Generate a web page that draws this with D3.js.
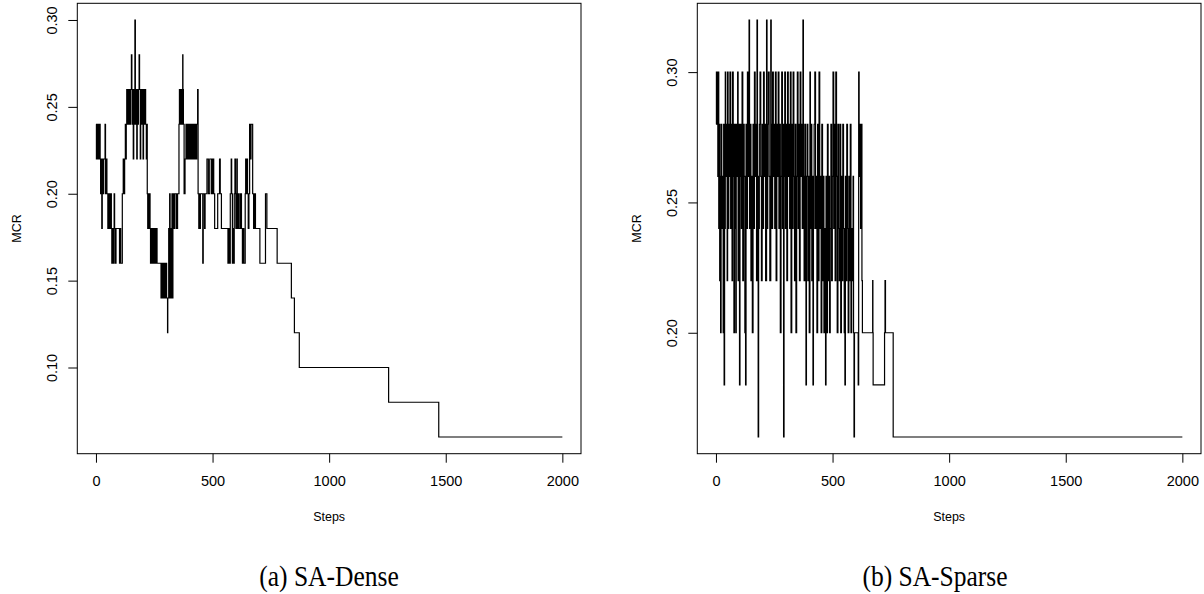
<!DOCTYPE html>
<html>
<head>
    <meta charset="utf-8">
    <title>SA MCR</title>
    <script type="text/javascript" src="https://cdn.jsdelivr.net/npm/d3@7"></script>
    <style>
        body { margin: 0; background: #fff; }
        .axis text { font-family: "Liberation Sans", Arial, sans-serif; font-size: 14.5px; fill: #000; }
        .axis line { stroke: #000; }
        .title { font-family: "Liberation Sans", Arial, sans-serif; font-size: 12.5px; }
        .caption { font-family: "Liberation Serif", "Times New Roman", serif; font-size: 29px; }
    </style>
</head>

<body>

<script type="text/javascript">

    // change points: [step, MCR] - the value holds until the next step listed
    var denseSteps = [
        [0,0.24],[2,0.22],[4,0.24],[6,0.22],[8,0.24],[10,0.22],[12,0.24],[14,0.22],[16,0.24],[18,0.22],
        [20,0.20],[22,0.22],[24,0.20],[25,0.18],[27,0.22],[30,0.20],[33,0.22],[39,0.24],[41,0.20],[45,0.22],
        [47,0.20],[51,0.18],[55,0.20],[58,0.18],[61,0.20],[66,0.18],[68,0.16],[70,0.18],[72,0.16],[74,0.18],
        [76,0.16],[78,0.20],[80,0.18],[84,0.16],[86,0.18],[101,0.16],[104,0.18],[106,0.16],[113,0.20],[117,0.22],
        [120,0.20],[123,0.22],[126,0.24],[128,0.22],[130,0.24],[132,0.26],[134,0.24],[136,0.26],[138,0.24],[140,0.26],
        [142,0.24],[144,0.26],[147,0.24],[149,0.26],[152,0.28],[154,0.26],[156,0.24],[158,0.26],[160,0.22],[162,0.26],
        [164,0.24],[167,0.30],[169,0.26],[171,0.24],[173,0.26],[175,0.22],[177,0.26],[180,0.24],[182,0.26],[185,0.28],
        [187,0.26],[190,0.22],[192,0.26],[194,0.24],[196,0.26],[199,0.24],[202,0.22],[204,0.26],[207,0.24],[210,0.26],
        [213,0.24],[216,0.22],[218,0.24],[220,0.20],[222,0.18],[224,0.20],[227,0.18],[229,0.20],[232,0.18],[234,0.16],
        [236,0.18],[238,0.16],[240,0.18],[242,0.16],[245,0.18],[247,0.16],[250,0.18],[252,0.16],[255,0.18],[257,0.16],
        [260,0.18],[262,0.16],[279,0.14],[281,0.16],[283,0.14],[286,0.16],[288,0.14],[291,0.16],[293,0.14],[296,0.16],
        [298,0.14],[301,0.16],[303,0.14],[307,0.12],[308,0.14],[312,0.18],[314,0.14],[316,0.20],[318,0.14],[321,0.18],
        [323,0.14],[326,0.20],[328,0.14],[330,0.20],[332,0.18],[334,0.20],[336,0.18],[338,0.20],[345,0.18],[350,0.20],
        [356,0.24],[358,0.26],[360,0.24],[362,0.26],[364,0.24],[366,0.26],[368,0.24],[370,0.26],[372,0.28],[373,0.26],
        [375,0.24],[378,0.20],[382,0.22],[386,0.24],[390,0.22],[393,0.24],[396,0.22],[398,0.24],[402,0.22],[405,0.24],
        [408,0.22],[411,0.24],[414,0.22],[418,0.24],[422,0.22],[425,0.24],[430,0.22],[432,0.24],[436,0.26],[438,0.20],
        [441,0.18],[443,0.20],[446,0.18],[448,0.20],[458,0.16],[460,0.20],[466,0.18],[468,0.20],[476,0.22],[482,0.20],
        [488,0.22],[496,0.20],[500,0.22],[505,0.20],[509,0.18],[522,0.20],[530,0.22],[533,0.20],[538,0.18],[566,0.16],
        [569,0.18],[572,0.16],[576,0.20],[580,0.22],[582,0.20],[585,0.16],[588,0.18],[590,0.16],[593,0.20],[596,0.22],
        [598,0.20],[600,0.18],[604,0.22],[606,0.18],[611,0.20],[614,0.18],[620,0.20],[624,0.18],[628,0.16],[632,0.18],
        [634,0.16],[640,0.20],[642,0.22],[645,0.20],[647,0.22],[650,0.20],[653,0.18],[656,0.20],[659,0.24],[663,0.22],
        [665,0.24],[672,0.20],[676,0.18],[680,0.20],[684,0.18],[703,0.16],[727,0.20],[733,0.18],[777,0.16],[838,0.14],
        [851,0.12],[872,0.10],[1255,0.08],[1470,0.06],[2000,0.06]
    ];

    var sparseSteps = [
        [0,0.28],[2,0.30],[4,0.28],[6,0.30],[8,0.26],[10,0.30],[12,0.24],[14,0.28],[16,0.22],[18,0.26],
        [20,0.20],[22,0.28],[25,0.24],[28,0.26],[31,0.20],[33,0.28],[35,0.18],[37,0.24],[40,0.30],[42,0.26],
        [45,0.28],[48,0.22],[50,0.30],[52,0.24],[55,0.28],[58,0.26],[60,0.30],[63,0.24],[66,0.28],[69,0.22],
        [71,0.30],[74,0.26],[77,0.20],[79,0.28],[82,0.24],[85,0.20],[87,0.28],[90,0.26],[93,0.30],[95,0.22],
        [98,0.28],[101,0.18],[103,0.26],[106,0.28],[109,0.24],[112,0.30],[115,0.22],[118,0.28],[121,0.26],[124,0.20],
        [127,0.18],[129,0.28],[132,0.24],[135,0.30],[138,0.26],[142,0.32],[144,0.24],[147,0.28],[150,0.22],[153,0.26],
        [156,0.20],[159,0.28],[162,0.24],[165,0.30],[168,0.26],[171,0.28],[174,0.22],[176,0.32],[178,0.26],[181,0.16],
        [183,0.24],[186,0.28],[189,0.30],[192,0.26],[195,0.22],[198,0.28],[201,0.24],[204,0.30],[207,0.26],[210,0.28],
        [213,0.22],[217,0.32],[219,0.24],[222,0.28],[225,0.30],[228,0.26],[231,0.22],[235,0.32],[237,0.28],[240,0.24],
        [243,0.30],[246,0.26],[249,0.28],[252,0.24],[255,0.30],[258,0.22],[261,0.28],[264,0.26],[267,0.30],[270,0.24],
        [273,0.28],[276,0.20],[279,0.26],[282,0.30],[285,0.24],[288,0.28],[290,0.16],[292,0.26],[295,0.30],[298,0.24],
        [301,0.28],[304,0.22],[307,0.30],[310,0.26],[313,0.28],[316,0.24],[319,0.30],[322,0.20],[325,0.28],[328,0.24],
        [331,0.30],[334,0.26],[337,0.22],[340,0.28],[343,0.20],[346,0.26],[349,0.30],[352,0.24],[355,0.28],[358,0.22],
        [361,0.30],[364,0.26],[367,0.28],[370,0.24],[373,0.32],[375,0.26],[378,0.22],[381,0.28],[384,0.24],[386,0.18],
        [388,0.26],[391,0.28],[394,0.22],[397,0.26],[400,0.20],[403,0.30],[405,0.24],[408,0.28],[411,0.22],[413,0.26],
        [416,0.18],[418,0.24],[421,0.28],[424,0.30],[427,0.24],[430,0.26],[433,0.20],[436,0.28],[439,0.22],[442,0.30],
        [445,0.24],[448,0.26],[451,0.20],[454,0.28],[457,0.22],[460,0.26],[463,0.20],[466,0.24],[470,0.18],[472,0.26],
        [475,0.20],[478,0.28],[481,0.22],[484,0.26],[487,0.20],[490,0.24],[493,0.28],[496,0.22],[499,0.26],[502,0.30],
        [505,0.24],[508,0.28],[511,0.22],[514,0.30],[517,0.26],[520,0.20],[523,0.28],[526,0.24],[529,0.22],[532,0.28],
        [535,0.20],[538,0.26],[541,0.22],[544,0.28],[547,0.24],[550,0.20],[553,0.18],[555,0.26],[558,0.22],[561,0.28],
        [564,0.24],[567,0.20],[570,0.26],[573,0.22],[576,0.28],[579,0.20],[582,0.24],[585,0.22],[588,0.26],[590,0.20],
        [592,0.16],[594,0.20],[610,0.18],[612,0.30],[614,0.26],[617,0.28],[620,0.24],[623,0.28],[626,0.22],[628,0.20],
        [672,0.22],[673,0.20],[674,0.18],[723,0.20],[725,0.22],[727,0.20],[760,0.16],[2000,0.16]
    ];

    var stepTicks = [0, 500, 1000, 1500, 2000],
        denseTicks = [0.10, 0.15, 0.20, 0.25, 0.30],
        sparseTicks = [0.20, 0.25, 0.30],
        captions = ["(a) SA-Dense", "(b) SA-Sparse"];

    var width = 1204,
        height = 594,
        plotTop = 3.3,
        plotBottom = 453.7;

    // R pads each axis range by 4%
    function padded(lo, hi){
        var d = (hi - lo) * 0.04;
        return [lo - d, hi + d];
    }

    var panels = [
        {data: denseSteps, yTicks: denseTicks, yDomain: padded(0.06, 0.30),
         left: 77.3, right: 581, caption: captions[0], capX: 329},
        {data: sparseSteps, yTicks: sparseTicks, yDomain: padded(0.16, 0.32),
         left: 697.3, right: 1201, caption: captions[1], capX: 935}
    ];

    var svg = d3.select("body").append("svg")
        .attr("width", width)
        .attr("height", height);

    panels.forEach(drawPanel);

    function drawPanel(p){
        var x = d3.scaleLinear()
                .domain(padded(0, 2000))
                .range([p.left, p.right]),
            y = d3.scaleLinear()
                .domain(p.yDomain)
                .range([plotBottom, plotTop]);

        var line = d3.line()
            .curve(d3.curveStepAfter)
            .x(function(d){ return x(d[0]); })
            .y(function(d){ return y(d[1]); });

        svg.append("path")
            .attr("d", line(p.data))
            .attr("fill", "none")
            .attr("stroke", "#000")
            .attr("stroke-width", 1.2);

        // plot box
        svg.append("rect")
            .attr("x", p.left)
            .attr("y", plotTop)
            .attr("width", p.right - p.left)
            .attr("height", plotBottom - plotTop)
            .attr("fill", "none")
            .attr("stroke", "#000")
            .attr("stroke-width", 1);

        var xAxis = svg.append("g")
            .attr("class", "axis")
            .attr("transform", "translate(0," + plotBottom + ")")
            .call(d3.axisBottom(x).tickValues(stepTicks).tickSize(9).tickPadding(13)
                .tickFormat(d3.format("d")));
        xAxis.select(".domain").remove();

        var yAxis = svg.append("g")
            .attr("class", "axis")
            .attr("transform", "translate(" + p.left + ",0)")
            .call(d3.axisLeft(y).tickValues(p.yTicks).tickSize(9)
                .tickFormat(d3.format(".2f")));
        yAxis.select(".domain").remove();
        // R draws y labels parallel to the axis
        yAxis.selectAll("text")
            .attr("x", null).attr("dy", null)
            .attr("text-anchor", "middle")
            .attr("transform", "translate(-25,0) rotate(-90)")
            .attr("dominant-baseline", "central");

        svg.append("text")
            .attr("class", "title")
            .attr("x", (p.left + p.right) / 2)
            .attr("y", 517)
            .attr("text-anchor", "middle")
            .attr("dominant-baseline", "central")
            .text("Steps");

        svg.append("text")
            .attr("class", "title")
            .attr("transform", "translate(" + (p.left - 60) + "," + ((plotTop + plotBottom) / 2) + ") rotate(-90)")
            .attr("text-anchor", "middle")
            .attr("dominant-baseline", "central")
            .text("MCR");

        // caption below each panel, slightly condensed like the reference
        svg.append("text")
            .attr("class", "caption")
            .attr("transform", "translate(" + p.capX + ",576) scale(0.88,1)")
            .attr("text-anchor", "middle")
            .attr("dominant-baseline", "central")
            .text(p.caption);
    }
</script>

</body>

</html>
